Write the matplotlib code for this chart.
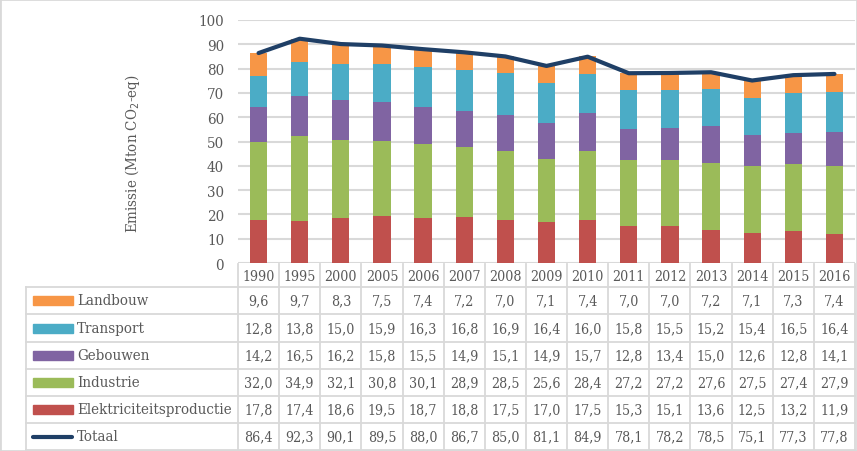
import numpy as np
import matplotlib.pyplot as plt
from matplotlib.patches import Rectangle

plt.rcParams['font.family'] = ['DejaVu Serif']
plt.rcParams['font.stretch'] = 'condensed'

years = ['1990', '1995', '2000', '2005', '2006', '2007', '2008', '2009',
         '2010', '2011', '2012', '2013', '2014', '2015', '2016']
landbouw = [9.6, 9.7, 8.3, 7.5, 7.4, 7.2, 7.0, 7.1, 7.4, 7.0, 7.0, 7.2, 7.1, 7.3, 7.4]
transport = [12.8, 13.8, 15.0, 15.9, 16.3, 16.8, 16.9, 16.4, 16.0, 15.8, 15.5, 15.2, 15.4, 16.5, 16.4]
gebouwen = [14.2, 16.5, 16.2, 15.8, 15.5, 14.9, 15.1, 14.9, 15.7, 12.8, 13.4, 15.0, 12.6, 12.8, 14.1]
industrie = [32.0, 34.9, 32.1, 30.8, 30.1, 28.9, 28.5, 25.6, 28.4, 27.2, 27.2, 27.6, 27.5, 27.4, 27.9]
elektriciteit = [17.8, 17.4, 18.6, 19.5, 18.7, 18.8, 17.5, 17.0, 17.5, 15.3, 15.1, 13.6, 12.5, 13.2, 11.9]
totaal = [86.4, 92.3, 90.1, 89.5, 88.0, 86.7, 85.0, 81.1, 84.9, 78.1, 78.2, 78.5, 75.1, 77.3, 77.8]

# stacking order bottom -> top
series = [
    ('Elektriciteitsproductie', elektriciteit, '#C0504D'),
    ('Industrie', industrie, '#9BBB59'),
    ('Gebouwen', gebouwen, '#8064A2'),
    ('Transport', transport, '#4BACC6'),
    ('Landbouw', landbouw, '#F79646'),
]
line_color = '#1F3F66'
text_color = '#595959'
grid_color = '#D9D9D9'
fs_lab = 10.8   # row labels / axis title
fs_num = 10.2   # table numbers

W, H = 857, 452
fig = plt.figure(figsize=(W / 100, H / 100), dpi=100)

# pixel layout
x_left, x_right = 238, 855
y_top, y_bottom = 21, 264
ax = fig.add_axes([x_left / W, 1 - y_bottom / H, (x_right - x_left) / W, (y_bottom - y_top) / H])

x = np.arange(len(years))
bottom = np.zeros(len(years))
for name, vals, col in series:
    ax.bar(x, vals, width=0.42, bottom=bottom, color=col, zorder=2)
    bottom += np.array(vals)
ax.plot(x, totaal, color=line_color, lw=3, solid_capstyle='round', zorder=3)

ax.set_xlim(-0.5, len(years) - 0.5)
ax.set_ylim(0, 100)
ax.set_yticks(np.arange(0, 101, 10))
ax.tick_params(axis='y', length=0, labelsize=10.8, labelcolor=text_color, pad=10)
ax.set_xticks([])
ax.grid(axis='y', color=grid_color, lw=1.5, zorder=0)
for s in ax.spines.values():
    s.set_visible(False)
ax.set_facecolor('none')

fig.text(132 / W, 1 - 154 / H, 'Emissie (Mton CO$_2$-eq)', rotation=90,
         ha='center', va='center', fontsize=fs_lab, color=text_color)

# data table in pixel coordinates
tab = fig.add_axes([0, 0, 1, 1], zorder=-1)
tab.set_xlim(0, W)
tab.set_ylim(H, 0)
tab.axis('off')

col_w = (x_right - x_left) / len(years)
head_top = 265
row_edges = [288, 315, 343, 370, 397, 424, 451]
lab_left = 26
lw_t = 1.3

# header row
for i, yr in enumerate(years):
    tab.text(x_left + (i + 0.5) * col_w, (head_top + row_edges[0]) / 2 + 1, yr,
             ha='center', va='center', fontsize=fs_num, color=text_color)
for i in range(len(years) + 1):
    xx = x_left + i * col_w
    tab.plot([xx, xx], [head_top, row_edges[-1]], color=grid_color, lw=lw_t)
tab.plot([lab_left, lab_left], [row_edges[0], row_edges[-1]], color=grid_color, lw=lw_t)
for yy in row_edges:
    tab.plot([lab_left, x_right], [yy, yy], color=grid_color, lw=lw_t)

rows = [(name, vals, col) for name, vals, col in series[::-1]] + [('Totaal', totaal, line_color)]
for r, (name, vals, col) in enumerate(rows):
    yc = (row_edges[r] + row_edges[r + 1]) / 2
    if name == 'Totaal':
        tab.plot([33, 72], [yc, yc], color=col, lw=3, solid_capstyle='round')
    else:
        tab.add_patch(Rectangle((33, yc - 4.5), 40, 9, color=col))
    tab.text(77, yc, name, ha='left', va='center', fontsize=fs_lab, color=text_color)
    for i, v in enumerate(vals):
        tab.text(x_left + (i + 0.5) * col_w, yc, f'{v:.1f}'.replace('.', ','),
                 ha='center', va='center', fontsize=fs_num, color=text_color)

# outer frame
fig.patches.append(Rectangle((0, 0), 1, 1, transform=fig.transFigure, fill=False,
                             edgecolor=grid_color, lw=2))

fig.savefig('out.png', dpi=100)
